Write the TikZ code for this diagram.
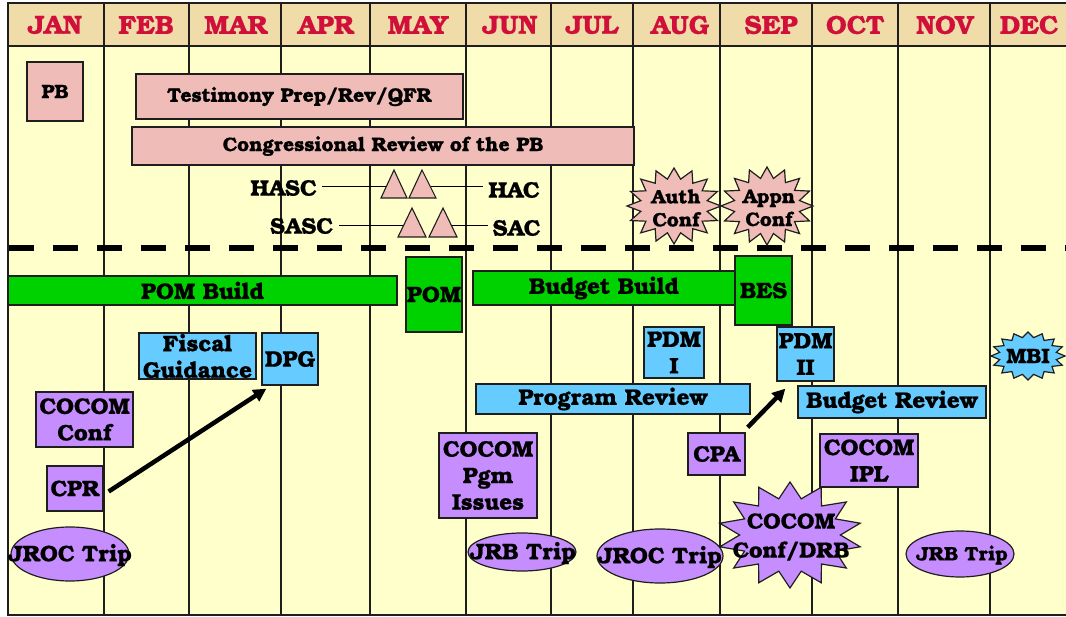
\documentclass[tikz,border=0pt]{standalone}
\usepackage{fontspec}
\setmainfont{texgyrebonum}[Extension=.otf, UprightFont=*-regular, BoldFont=*-bold, ItalicFont=*-italic, BoldItalicFont=*-bolditalic, BoldFeatures={FakeBold=0.7}]
\usetikzlibrary{arrows.meta,shapes.geometric}
\definecolor{hdr}{HTML}{F0DCA8}
\definecolor{bodyc}{HTML}{FFFFCC}
\definecolor{monthc}{HTML}{D0103A}
\definecolor{pinkc}{HTML}{F0BCB8}
\definecolor{greenc}{HTML}{00D200}
\definecolor{bluec}{HTML}{66CCFF}
\definecolor{purplec}{HTML}{C68DFF}
\definecolor{edgec}{HTML}{1E1E1E}
\tikzset{
  lbl/.style={font=\bfseries\fontsize{22.5}{26.5}\selectfont, align=center, inner sep=0pt, text=black},
  smalllbl/.style={font=\bfseries\fontsize{19.5}{23}\selectfont},
  boxbase/.style={lbl, rectangle, draw=edgec, line width=1.3pt},
  pinkbox/.style={boxbase, smalllbl, fill=pinkc},
  greenbox/.style={boxbase, fill=greenc},
  bluebox/.style={boxbase, fill=bluec},
  purplebox/.style={boxbase, fill=purplec},
  monthlbl/.style={font=\bfseries\fontsize{26}{28}\selectfont, text=monthc, inner sep=0pt},
  gridline/.style={draw=edgec, line width=1.2pt},
  border/.style={draw=edgec, line width=2.2pt},
  tri/.style={draw=edgec, line width=1.1pt, fill=pinkc},
  thin/.style={draw=black, line width=1pt},
  bigarrow/.style={draw=black, line width=4.5pt, -{Triangle[length=13pt,width=13pt]}},
  trip/.style={ellipse, draw=edgec, line width=1.2pt, fill=purplec, inner sep=0pt},
}
\newcommand\bx[7]{\node[#2, minimum width=#5pt, minimum height=#6pt] (#1) at (#3,#4) {#7};}
\newcommand\burst[8]{%
  \draw[fill=#2, draw=edgec, line width=1.2pt] (#3,{#4-#6})
    \foreach \k in {1,...,#7}{
      -- ({#3+#5*#8*sin((\k-0.5)*360/#7)},{#4-#6*#8*cos((\k-0.5)*360/#7)})
      -- ({#3+#5*sin(\k*360/#7)},{#4-#6*cos(\k*360/#7)})
    } -- cycle;
  \coordinate (#1) at (#3,#4);}
\begin{document}
\begin{tikzpicture}[x=1pt,y=-1pt]
\useasboundingbox (0,0) rectangle (1066,617);
% background
\fill[bodyc] (8,46) rectangle (1066,615);
\fill[hdr] (8,3) rectangle (1066,46);
% grid
\foreach \gx in {104,189,281,370,466,551,633,720,812,898,990}{
  \draw[gridline] (\gx,3) -- (\gx,615);
}
\draw[border] (1066,3) -- (8,3) -- (8,615) -- (1066,615);
\draw[border] (8,46) -- (1066,46);
% months
\node[monthlbl] (jan) at (55,25) {JAN};
\node[monthlbl] (feb) at (146,25) {FEB};
\node[monthlbl] (mar) at (236,25) {MAR};
\node[monthlbl] (apr) at (326,25) {APR};
\node[monthlbl] (may) at (418,25) {MAY};
\node[monthlbl] (jun) at (510,25) {JUN};
\node[monthlbl] (jul) at (592,25) {JUL};
\node[monthlbl] (aug) at (680,25) {AUG};
\node[monthlbl] (sep) at (771,25) {SEP};
\node[monthlbl] (oct) at (855,25) {OCT};
\node[monthlbl] (nov) at (945,25) {NOV};
\node[monthlbl] (dec) at (1029,25) {DEC};
% dashed divider
\draw[line width=6pt, dash pattern=on 25pt off 19pt] (9,248) -- (1066,248);
% top (pink) part
\bx{pb}{pinkbox}{55}{91.5}{56}{59}{PB}
\bx{test}{pinkbox}{299.5}{96.5}{327}{45}{Testimony Prep/Rev/QFR}
\bx{cong}{pinkbox}{383}{146}{502}{38}{Congressional Review of the PB}
% triangles
\draw[tri] (381,198) -- (394,170) -- (407,198) -- cycle;
\draw[tri] (409,198) -- (422,170) -- (436,198) -- cycle;
\draw[tri] (398,237) -- (412,208) -- (426,237) -- cycle;
\draw[tri] (429,237) -- (443,208) -- (457,237) -- cycle;
\coordinate (t1) at (386,187);
\coordinate (t2) at (431,187);
\coordinate (t3) at (403,226);
\coordinate (t4) at (452,226);
\node[lbl] (hasc) at (283.5,188) {HASC};
\node[lbl] (hac) at (514,190) {HAC};
\node[lbl] (sasc) at (301.5,226) {SASC};
\node[lbl] (sac) at (516.5,228) {SAC};
\draw[thin] (hasc.east |- t1) ++(5,0) -- (t1);
\draw[thin] (t2) -- ([xshift=-5pt]hac.west |- t2);
\draw[thin] (sasc.east |- t3) ++(6,0) -- (t3);
\draw[thin] (t4) -- ([xshift=-5pt]sac.west |- t4);
% conference bursts
\burst{authb}{pinkc}{674}{206}{47}{38}{16}{0.72}
\node[lbl,smalllbl] (auth) at (676,208) {Auth\\Conf};
\burst{appnb}{pinkc}{767}{206}{46}{39}{16}{0.72}
\node[lbl,smalllbl] (appn) at (769,208) {Appn\\Conf};
% green
\bx{pombuild}{greenbox}{202.5}{290.5}{389}{29}{POM Build}
\bx{pom}{greenbox}{434}{294.5}{56}{75}{POM}
\bx{budbuild}{greenbox}{604}{288}{262}{34}{Budget Build}
\bx{bes}{greenbox}{763.5}{290.5}{57}{69}{BES}
% blue
\bx{fiscal}{bluebox}{197.5}{356}{117}{46}{Fiscal\\Guidance}
\bx{dpg}{bluebox}{290}{359}{56}{52}{DPG}
\bx{pdmi}{bluebox}{674}{352.5}{60}{51}{PDM\\I}
\bx{pdmii}{bluebox}{805.5}{354}{57}{54}{PDM\\II}
\bx{progrev}{bluebox}{613}{399}{274}{30}{Program Review}
\bx{budrev}{bluebox}{892}{402}{188}{32}{Budget Review}
\burst{mbib}{bluec}{1028}{356}{37}{24}{16}{0.78}
\node[lbl,font=\bfseries\fontsize{21}{24}\selectfont] (mbi) at (1028,356) {MBI};
% purple
\bx{cocomconf}{purplebox}{84.5}{419.5}{97}{55}{COCOM\\Conf}
\bx{cpr}{purplebox}{75}{488.5}{56}{45}{CPR}
\bx{pgm}{purplebox}{488}{475.5}{98}{85}{COCOM\\Pgm\\Issues}
\bx{cpa}{purplebox}{716.5}{454}{57}{42}{CPA}
\bx{ipl}{purplebox}{869}{460.5}{98}{53}{COCOM\\IPL}
\burst{drbb}{purplec}{790}{535}{72}{53}{14}{0.7}
\node[lbl,font=\bfseries\fontsize{22}{29}\selectfont] (drb) at (791,537) {COCOM\\Conf/DRB};
% trips
\node[trip, minimum width=118pt, minimum height=54pt] (jroc1e) at (70,554) {};
\node[lbl] (jroc1) at (70,555) {JROC Trip};
\node[trip, minimum width=108pt, minimum height=38pt] (jrb1e) at (522,552) {};
\node[lbl] (jrb1) at (523,553) {JRB Trip};
\node[trip, minimum width=126pt, minimum height=54pt] (jroc2e) at (660,556) {};
\node[lbl] (jroc2) at (660,557) {JROC Trip};
\node[trip, minimum width=108pt, minimum height=46pt] (jrb2e) at (960,554) {};
\node[lbl,smalllbl] (jrb2) at (962,555) {JRB Trip};
% arrows
\draw[bigarrow] ([shift={(5pt,-3pt)}]cpr.east) -- ([shift={(5pt,-3pt)}]dpg.south west);
\draw[bigarrow] ([shift={(2pt,5pt)}]cpa.north east) -- ([shift={(9pt,-7pt)}]pdmii.south west);
\end{tikzpicture}
\end{document}
